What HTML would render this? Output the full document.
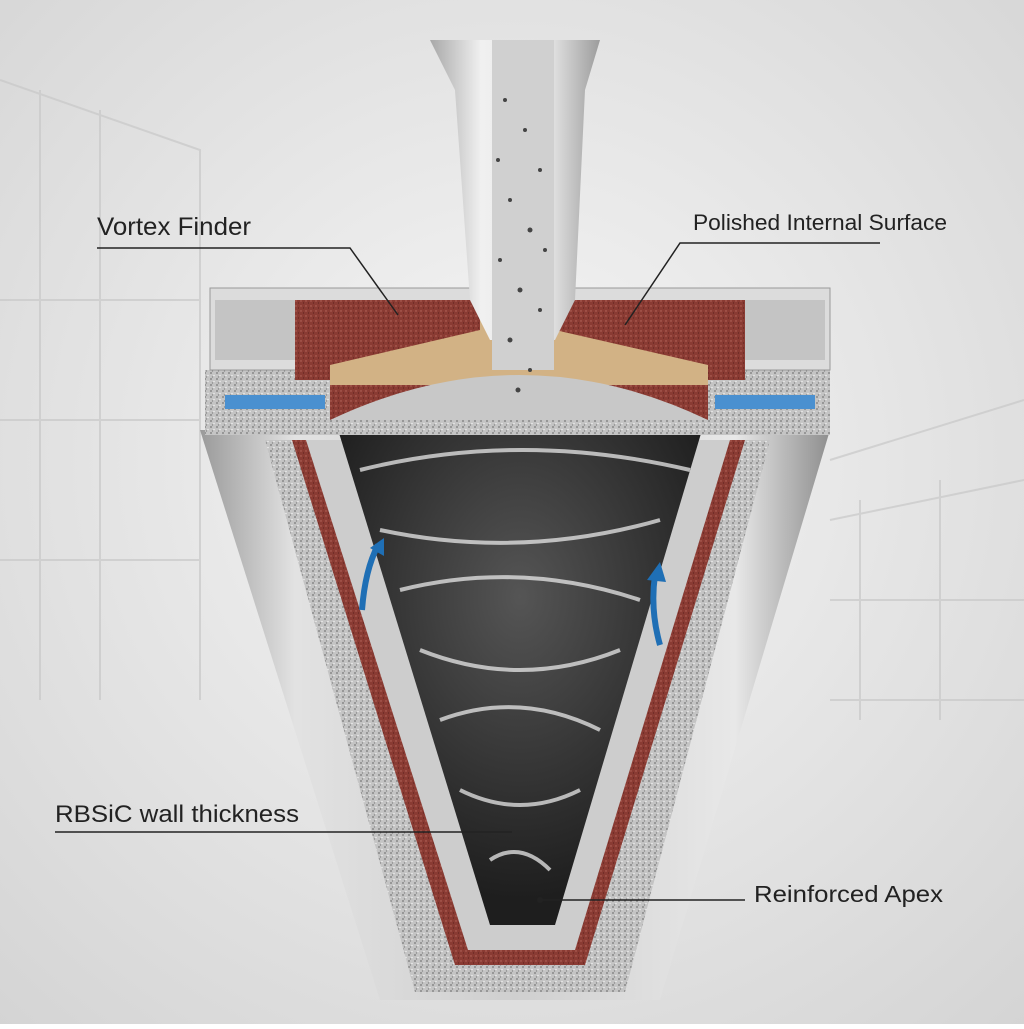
<!DOCTYPE html>
<html><head><meta charset="utf-8"><style>
html,body{margin:0;padding:0;}
body{width:1024px;height:1024px;overflow:hidden;font-family:"Liberation Sans",sans-serif;}
</style></head><body>
<svg width="1024" height="1024" viewBox="0 0 1024 1024" xmlns="http://www.w3.org/2000/svg">
<defs>
<radialGradient id="bg" cx="50%" cy="45%" r="75%">
<stop offset="0" stop-color="#f6f6f6"/><stop offset="1" stop-color="#d4d4d4"/></radialGradient>
<linearGradient id="shell" x1="0" x2="1" y1="0" y2="0">
<stop offset="0" stop-color="#9a9a9a"/><stop offset="0.15" stop-color="#e2e2e2"/><stop offset="0.5" stop-color="#cfcfcf"/><stop offset="0.85" stop-color="#e8e8e8"/><stop offset="1" stop-color="#8e8e8e"/></linearGradient>
<pattern id="speck" width="6" height="6" patternUnits="userSpaceOnUse">
<rect width="6" height="6" fill="#c4c4c4"/><circle cx="1" cy="1" r="0.9" fill="#777"/><circle cx="4" cy="3.5" r="0.8" fill="#eee"/><circle cx="2.5" cy="5" r="0.7" fill="#888"/></pattern>
<pattern id="red" width="5" height="5" patternUnits="userSpaceOnUse">
<rect width="5" height="5" fill="#8a3b33"/><circle cx="1" cy="1" r="0.7" fill="#b96a60"/><circle cx="3.5" cy="3" r="0.6" fill="#5e221d"/></pattern>
<radialGradient id="vort" cx="50%" cy="35%" r="60%">
<stop offset="0" stop-color="#555"/><stop offset="1" stop-color="#1e1e1e"/></radialGradient>
<linearGradient id="pipe" x1="0" x2="1"><stop offset="0" stop-color="#a8a8a8"/><stop offset="0.3" stop-color="#f0f0f0"/><stop offset="0.7" stop-color="#e6e6e6"/><stop offset="1" stop-color="#9c9c9c"/></linearGradient>
</defs>
<rect width="1024" height="1024" fill="url(#bg)"/>
<g stroke="#c8c8c8" stroke-width="2" fill="none" opacity="0.7">
<path d="M0 80 L200 150 L200 700 M40 90 L40 700 M100 110 L100 700 M0 300 L200 300 M0 420 L200 420 M0 560 L200 560"/>
<path d="M1024 400 L830 460 M1024 480 L830 520 M860 500 L860 720 M940 480 L940 720 M830 600 L1024 600 M830 700 L1024 700"/>
</g>
<polygon points="200,430 830,430 660,1000 380,1000" fill="url(#shell)"/>
<polygon points="265,440 770,440 625,992 415,992" fill="url(#speck)"/>
<polygon points="292,440 745,440 585,965 455,965" fill="url(#red)"/>
<polygon points="306,440 730,440 575,950 468,950" fill="#cdcdcd"/>
<polygon points="335,420 705,420 555,925 490,925" fill="url(#vort)"/>
<g stroke="#e8e8e8" stroke-width="4" fill="none" opacity="0.75">
<path d="M360 470 Q520 430 690 470"/><path d="M380 530 Q520 560 660 520"/><path d="M400 590 Q520 560 640 600"/>
<path d="M420 650 Q520 690 620 650"/><path d="M440 720 Q520 690 600 730"/><path d="M460 790 Q520 820 580 790"/><path d="M490 860 Q520 840 550 870"/>
</g>
<path d="M362 610 Q365 570 378 545" stroke="#1f6fb5" stroke-width="6" fill="none"/>
<polygon points="370,548 384,538 384,556" fill="#1f6fb5"/>
<path d="M660 645 Q650 610 655 575" stroke="#1f6fb5" stroke-width="6" fill="none"/>
<polygon points="647,580 660,562 666,582" fill="#1f6fb5"/>
<rect x="205" y="370" width="625" height="65" fill="url(#speck)"/>
<rect x="225" y="395" width="100" height="14" fill="#4a90d0"/>
<rect x="715" y="395" width="100" height="14" fill="#4a90d0"/>
<path d="M210 288 L830 288 L830 370 L210 370 Z" fill="#dcdcdc" stroke="#999"/>
<rect x="215" y="300" width="80" height="60" fill="#c4c4c4"/>
<rect x="745" y="300" width="80" height="60" fill="#c4c4c4"/>
<polygon points="295,300 470,300 470,235 565,235 565,300 745,300 745,380 708,380 708,420 330,420 330,380 295,380" fill="url(#red)"/>
<polygon points="330,365 480,330 480,235 555,235 555,330 708,365 708,385 330,385" fill="#d2b285"/>
<path d="M330 420 Q520 330 708 420 Z" fill="#c8c8c8"/>
<path d="M430 40 L600 40 L585 90 L575 300 L555 340 L490 340 L470 300 L455 90 Z" fill="url(#pipe)"/>
<rect x="492" y="40" width="62" height="330" fill="#d0d0d0"/>
<g fill="#444">
<circle cx="505" cy="100" r="2"/><circle cx="525" cy="130" r="2"/><circle cx="540" cy="170" r="2"/><circle cx="510" cy="200" r="2"/><circle cx="530" cy="230" r="2.5"/><circle cx="500" cy="260" r="2"/><circle cx="520" cy="290" r="2.5"/><circle cx="540" cy="310" r="2"/><circle cx="510" cy="340" r="2.5"/><circle cx="530" cy="370" r="2"/><circle cx="518" cy="390" r="2.5"/><circle cx="545" cy="250" r="2"/><circle cx="498" cy="160" r="2"/>
</g>
<g font-family="Liberation Sans, sans-serif" fill="#222">
<text x="97" y="235" font-size="25" textLength="154" lengthAdjust="spacingAndGlyphs">Vortex Finder</text>
<text x="693" y="230" font-size="22" textLength="254" lengthAdjust="spacingAndGlyphs">Polished Internal Surface</text>
<text x="55" y="822" font-size="24" textLength="244" lengthAdjust="spacingAndGlyphs">RBSiC wall thickness</text>
<text x="754" y="902" font-size="23" textLength="189" lengthAdjust="spacingAndGlyphs">Reinforced Apex</text>
</g>
<g stroke="#222" stroke-width="1.5" fill="none">
<path d="M97 248 L350 248 L398 315"/>
<path d="M880 243 L680 243 L625 325"/>
<path d="M55 832 L512 832"/>
<path d="M540 900 L745 900"/>
</g>
<circle cx="540" cy="900" r="3" fill="#222"/>
</svg>
</body></html>
